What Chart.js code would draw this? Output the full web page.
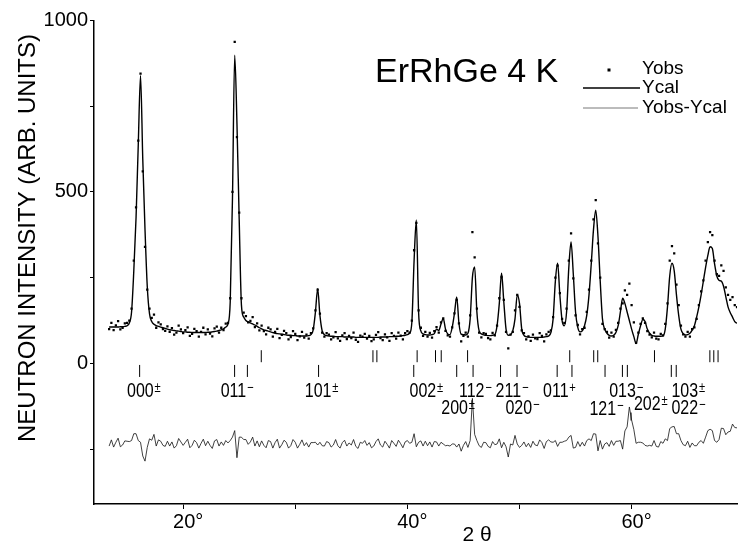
<!DOCTYPE html>
<html><head><meta charset="utf-8">
<script src="https://cdn.jsdelivr.net/npm/chart.js@4.4.1/dist/chart.umd.min.js"></script>
<style>html,body{margin:0;padding:0;background:#fff;overflow:hidden}canvas{display:block}</style>
</head><body>
<canvas id="c" width="744" height="546"></canvas>
<script>
// 2-theta measurement grid (instrument step)
const thetaStart = 13.4;
const thetaStep = 0.2;

// observed intensity (dots)
const yObs = [
 100,118,97,
 111,123,99,104,117,
 118,125,160,300,455,
 650,845,560,340,215,
 160,133,142,104,120,
 114,100,95,108,92,
 103,84,90,110,99,
 88,97,105,80,86,
 101,94,78,92,104,
 85,99,87,79,102,
 107,90,104,97,116,
 118,190,500,938,660,
 440,190,148,138,120,
 124,135,106,117,96,
 110,94,85,104,99,
 78,92,101,74,83,
 95,88,70,77,94,
 86,68,79,92,75,
 84,72,88,102,155,
 215,145,90,78,88,
 84,70,76,91,73,
 66,82,88,71,80,
 74,90,69,63,81,
 78,86,72,80,65,
 70,83,91,74,68,
 85,76,66,88,80,
 72,90,81,70,88,
 94,90,125,330,410,
 155,104,80,92,78,
 89,75,94,106,90,
 120,131,95,82,78,
 105,146,185,117,64,
 80,90,78,140,383,
 309,160,90,76,88,
 86,74,70,89,82,
 110,190,252,185,92,
 44,84,92,155,200,
 165,96,88,70,79,
 66,84,73,71,88,
 80,64,85,92,96,
 135,250,285,205,130,
 118,160,300,379,248,
 140,112,85,100,104,
 150,215,300,420,476,
 350,250,115,100,92,
 75,90,78,98,118,
 160,175,213,200,233,
 170,120,60,90,115,
 131,118,94,84,76,
 90,72,70,86,82,
 115,175,300,342,321,
 230,170,110,85,78,
 92,78,100,105,130,
 170,210,242,300,354,
 383,374,300,260,255,
 286,270,222,200,185,
 193,170,164
];

// calculated profile (solid line)
const yCal = [
 106,106,106,
 106,106,107,107,108,
 110,118,150,270,425,
 640,840,595,390,225,
 145,122,114,110,108,
 106,104,102,100,98,
 97,96,95,94,93,
 92,92,91,91,90,
 90,90,90,90,90,
 90,91,91,92,93,
 94,96,98,101,106,
 115,180,480,899,700,
 420,170,135,125,121,
 118,115,112,108,104,
 101,98,96,94,92,
 90,88,87,86,85,
 84,83,82,82,81,
 81,80,80,80,80,
 80,81,84,98,150,
 218,140,95,84,81,
 80,79,79,78,78,
 78,78,77,77,77,
 77,77,76,76,76,
 76,76,76,76,76,
 76,76,76,77,77,
 77,77,78,78,78,
 79,79,80,81,82,
 84,88,120,300,418,
 150,95,86,84,83,
 83,84,87,100,96,
 115,131,100,86,84,
 105,146,194,117,85,
 84,83,88,130,250,
 281,150,95,86,83,
 82,81,81,82,84,
 110,175,263,180,100,
 82,84,95,130,200,
 175,100,82,78,77,
 76,76,76,76,76,
 76,77,78,80,90,
 130,240,292,200,125,
 110,150,280,354,260,
 150,105,92,95,110,
 140,200,290,390,447,
 370,240,130,100,88,
 82,80,82,90,110,
 150,190,175,150,125,
 100,78,58,85,110,
 128,122,100,88,82,
 80,79,79,79,80,
 100,165,255,292,270,
 200,140,100,87,83,
 84,88,97,110,135,
 165,200,240,280,315,
 340,335,290,255,242,
 240,225,195,165,148,
 135,122,117
];

const diffOffset = -235;   // Yobs-Ycal curve is shifted down

// Bragg reflection markers (2-theta)
const braggUpper = [26.97,36.93,37.28,40.87,42.51,43.02,45.37,54.48,56.62,56.98,62.04,66.98,67.33,67.71];
const braggLower = [16.12,24.59,25.73,32.08,40.57,44.40,45.86,48.31,49.78,53.36,54.68,57.63,59.18,59.62,63.54,63.98];
const braggUpperLevel = 21;
const braggLowerLevel = -22;
const extraMark = [59.95];
const extraMarkLevel = -155;

// reflection labels
const hklText = ['000','011','101','002','112','211','011','013','103','200','020','121','202','022'];
const hklSup  = ['\u00B1','\u2212','\u00B1','\u00B1','\u2212','\u2212','+','\u2212','\u00B1','\u00B1','\u2212','\u2212','\u00B1','\u2212'];
const hklAt   = [15.0,23.35,30.85,40.19,44.6,47.87,52.1,58.0,63.55,43.02,48.75,56.24,60.21,63.55];
const hklLevel= [-98,-98,-98,-98,-98,-98,-98,-98,-98,-148,-148,-151,-137,-148];

// axes
const xTicks = [20,30,40,50,60];
const xTickLabels = ['20\u00B0','','40\u00B0','','60\u00B0'];
const yTicks = [-250,0,250,500,750,1000];
const yTickLabels = ['','0','','500','','1000'];

const twoTheta = yObs.map((_, i) => +(thetaStart + i * thetaStep).toFixed(1));
const obsPts = twoTheta.map((t, i) => ({x: t, y: yObs[i]}));
const calPts = twoTheta.map((t, i) => ({x: t, y: yCal[i]}));
const diffPts = twoTheta.map((t, i) => ({x: t, y: yObs[i] - yCal[i] + diffOffset}));

const FONT = '"Liberation Sans", Arial, Helvetica, sans-serif';

const annot = {
  id: 'annot',
  afterDatasetsDraw(chart) {
    const {ctx, scales: {x, y}} = chart;
    ctx.save();
    ctx.fillStyle = '#000';
    ctx.strokeStyle = '#000';
    // hkl labels
    hklText.forEach((t, i) => {
      const px = x.getPixelForValue(hklAt[i]);
      const py = y.getPixelForValue(hklLevel[i]);
      ctx.save();
      ctx.translate(px, py);
      ctx.scale(0.8, 1);
      ctx.font = '20px ' + FONT;
      ctx.textAlign = 'left';
      ctx.textBaseline = 'alphabetic';
      ctx.fillText(t, 0, 0);
      const w = ctx.measureText(t).width;
      ctx.font = '14px ' + FONT;
      ctx.fillText(hklSup[i], w + 1, -5);
      ctx.restore();
    });
    // title
    ctx.font = '34px ' + FONT;
    ctx.textAlign = 'left';
    ctx.textBaseline = 'alphabetic';
    ctx.fillText('ErRhGe 4 K', 375, 82);
    // legend
    ctx.font = '19px ' + FONT;
    ctx.textBaseline = 'middle';
    ctx.fillRect(607.5, 68.5, 3, 3);
    ctx.fillText('Yobs', 642, 69);
    ctx.lineWidth = 1.4;
    ctx.beginPath(); ctx.moveTo(583, 88); ctx.lineTo(640, 88); ctx.stroke();
    ctx.fillText('Ycal', 642, 88);
    ctx.lineWidth = 0.8;
    ctx.strokeStyle = '#555';
    ctx.beginPath(); ctx.moveTo(583, 108); ctx.lineTo(638, 108); ctx.stroke();
    ctx.fillText('Yobs-Ycal', 642, 108);
    // axis titles
    ctx.font = '21px ' + FONT;
    ctx.textAlign = 'center';
    ctx.fillText('2 \u03B8', 477, 535);
    ctx.save();
    ctx.translate(28, 238);
    ctx.rotate(-Math.PI / 2);
    ctx.font = '24px ' + FONT;
    ctx.fillText('NEUTRON INTENSITY (ARB. UNITS)', 0, 0);
    ctx.restore();
    ctx.restore();
  }
};

new Chart(document.getElementById('c'), {
  type: 'scatter',
  data: {
    datasets: [
      {label: 'Yobs', data: obsPts, showLine: false, pointStyle: 'rect', pointRadius: 1.6, backgroundColor: '#000', borderWidth: 0},
      {label: 'Ycal', data: calPts, showLine: true, pointRadius: 0, borderColor: '#000', borderWidth: 1.4, cubicInterpolationMode: 'monotone'},
      {label: 'Yobs-Ycal', data: diffPts, showLine: true, pointRadius: 0, borderColor: '#111', borderWidth: 0.8, tension: 0},
      {label: 'bragg1', data: braggUpper.map(v => ({x: v, y: braggUpperLevel})), showLine: false, pointStyle: 'line', rotation: 90, pointRadius: 6, borderColor: '#000', borderWidth: 1},
      {label: 'bragg2', data: braggLower.map(v => ({x: v, y: braggLowerLevel})), showLine: false, pointStyle: 'line', rotation: 90, pointRadius: 6, borderColor: '#000', borderWidth: 1},
      {label: 'mark', data: extraMark.map(v => ({x: v, y: extraMarkLevel})), showLine: false, pointStyle: 'line', rotation: 90, pointRadius: 4, borderColor: '#000', borderWidth: 1}
    ]
  },
  options: {
    responsive: false,
    animation: false,
    events: [],
    layout: {padding: {top: 20.5, left: 0, right: 0, bottom: 0}},
    plugins: {legend: {display: false}, tooltip: {enabled: false}},
    scales: {
      x: {
        type: 'linear', min: 12.05, max: 69.4,
        afterBuildTicks: s => { s.ticks = xTicks.map(v => ({value: v})); },
        afterFit: s => { s.height = 42; },
        ticks: {autoSkip: false, maxRotation: 0, padding: 1, labelOffset: 5, color: '#000', font: {size: 20, family: FONT},
                callback: v => xTickLabels[xTicks.indexOf(v)]},
        grid: {drawOnChartArea: false, drawTicks: true, tickLength: 5, tickColor: '#000', tickWidth: 1},
        border: {display: true, color: '#000', width: 1.5}
      },
      y: {
        type: 'linear', min: -410, max: 1000,
        afterBuildTicks: s => { s.ticks = yTicks.map(v => ({value: v})); },
        afterFit: s => { s.width = 94; },
        ticks: {autoSkip: false, padding: 2, color: '#000', font: {size: 20, family: FONT},
                callback: v => yTickLabels[yTicks.indexOf(v)]},
        grid: {drawOnChartArea: false, drawTicks: true, tickLength: 4, tickColor: '#000', tickWidth: 1},
        border: {display: true, color: '#000', width: 1.5}
      }
    }
  },
  plugins: [annot]
});
</script>
</body></html>
